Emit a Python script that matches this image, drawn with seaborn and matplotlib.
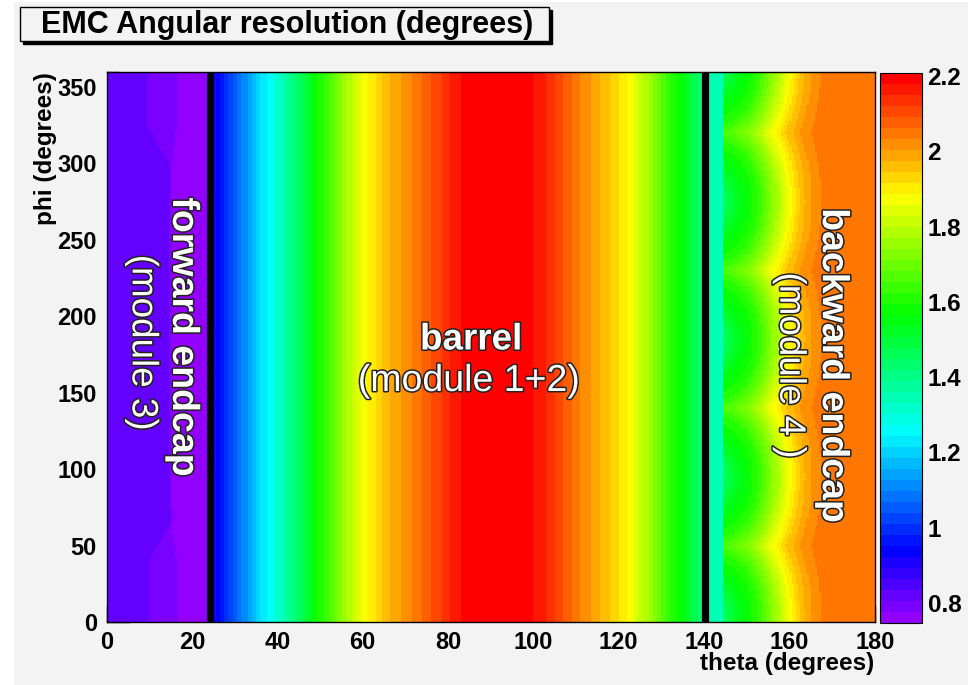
import colorsys

import numpy as np
import pandas as pd
import matplotlib
matplotlib.use("Agg")
import matplotlib.pyplot as plt
import matplotlib.patheffects as pe
from matplotlib.colors import ListedColormap
from matplotlib.patches import Rectangle
import seaborn as sns

# ---------------------------------------------------------------- data
# Barrel (module 1+2): angular resolution (deg) versus polar angle theta
barrel_theta = [24.0, 25.0, 30.0, 35.0, 38.5, 44.0, 49.0, 55.0, 61.0, 67.0, 73.0,
                79.0, 84.0, 91.5, 99.0, 104.0, 110.0, 116.0, 122.0, 128.0, 134.0,
                138.0, 141.0]
barrel_res = [0.91, 0.91, 1.05, 1.19, 1.27, 1.42, 1.575, 1.74, 1.89, 1.98, 2.05,
              2.13, 2.19, 2.23, 2.19, 2.14, 2.05, 1.97, 1.89, 1.74, 1.575,
              1.46, 1.40]

# Forward endcap (module 3): three resolution levels, separated by
# theta boundaries that move with phi
fwd_phi = [0, 40, 62, 70, 78, 300, 325, 360]
fwd_edge_inner = [9.8, 9.8, 14.4, 15.2, 14.4, 14.6, 9.4, 9.8]
fwd_edge_outer = [16.4, 16.4, 15.0, 15.6, 15.0, 15.2, 16.4, 16.4]
fwd_levels = [0.82, 0.79, 0.762]

# Backward endcap (module 4): resolution versus distance from the
# centre of each crystal sector; sector centres at these phi values
bwd_centres_phi = [5, 95, 185, 275]
bwd_centre_theta = 143.0
bwd_gap_theta = 144.5
bwd_dist = [0.0, 1.5, 5.5, 9.5, 13.5, 16.5, 19.5, 22.5, 25.5, 60.0]
bwd_res = [1.42, 1.45, 1.54, 1.62, 1.75, 1.86, 1.95, 2.01, 2.045, 2.045]
bwd_gap_res = 1.35

# detector transitions drawn as black lines
boundaries_theta = [24.1, 140.3]

# colour scale and axis ticks
z_min, z_max = 0.747, 2.209
cbar_ticks = [0.8, 1.0, 1.2, 1.4, 1.6, 1.8, 2.0, 2.2]
theta_ticks = [0, 20, 40, 60, 80, 100, 120, 140, 160, 180]
phi_ticks = [0, 50, 100, 150, 200, 250, 300, 350]

# ---------------------------------------------------------------- grid
D_THETA, D_PHI = 0.5, 1.0
PHI_SCALE = 0.24
theta_c = np.arange(D_THETA / 2, 180, D_THETA)
phi_c = np.arange(D_PHI / 2, 360, D_PHI)
T, P = np.meshgrid(theta_c, phi_c)

inner = np.interp(P, fwd_phi, fwd_edge_inner)
outer = np.interp(P, fwd_phi, fwd_edge_outer)
z_fwd = np.where(T < inner, fwd_levels[0],
                 np.where(T < outer, fwd_levels[1], fwd_levels[2]))

z_bar = np.interp(T, barrel_theta, barrel_res)

dphi = np.min([np.abs((P - c + 180) % 360 - 180) for c in bwd_centres_phi], axis=0)
dist = np.hypot(T - bwd_centre_theta, PHI_SCALE * dphi)
z_bwd = np.where(T < bwd_gap_theta, bwd_gap_res, np.interp(dist, bwd_dist, bwd_res))

Z = np.where(T < boundaries_theta[0], z_fwd,
             np.where(T < boundaries_theta[1], z_bar, z_bwd))
res_table = pd.DataFrame(Z, index=phi_c, columns=theta_c)

# ROOT "pretty" palette: 50 HLS hues from violet to red
palette = [colorsys.hls_to_rgb((280 - (i + 1) * 280 / 50) / 360, 0.5, 1.0) for i in range(49)]
palette.append((1.0, 0.0, 0.0))
cmap = ListedColormap(palette)

# ---------------------------------------------------------------- figure
sns.set_theme(style="ticks")
plt.rcParams["font.family"] = ["Liberation Sans", "DejaVu Sans"]
plt.rcParams.update({"text.color": "black", "axes.labelcolor": "black",
                     "xtick.color": "black", "ytick.color": "black"})

W, H = 977, 685
fig = plt.figure(figsize=(W / 100, H / 100), dpi=100)
fig.patch.set_facecolor("white")
fig.patches.append(Rectangle((14 / W, 0), (968 - 14) / W, (H - 2) / H,
                             transform=fig.transFigure, facecolor="#f3f3f3",
                             edgecolor="none", zorder=-10))


def fig_box(x0, y0, x1, y1):
    return (x0 / W, 1 - y1 / H), (x1 - x0) / W, (y1 - y0) / H


ax = fig.add_axes([106.7 / W, 1 - 622.3 / H, (874.7 - 106.7) / W, (622.3 - 71.7) / H])
cax = fig.add_axes([880 / W, 1 - 622.7 / H, 42 / W, (622.7 - 72.7) / H])

sns.heatmap(res_table, ax=ax, cbar_ax=cax, cmap=cmap, vmin=z_min, vmax=z_max,
            xticklabels=False, yticklabels=False, rasterized=True)
ax.invert_yaxis()
ax.set_xlabel("")
ax.set_ylabel("")

for th in boundaries_theta:
    ax.axvline(th / D_THETA, color="black", lw=5.2, zorder=3)

for s in ax.spines.values():
    s.set_visible(True)
    s.set_color("black")
    s.set_linewidth(1.0)

ax.set_xticks([t / D_THETA for t in theta_ticks])
ax.set_xticklabels([str(t) for t in theta_ticks])
ax.set_xticks([t / D_THETA for t in range(0, 181, 5)], minor=True)
ax.set_yticks([p / D_PHI for p in phi_ticks])
ax.set_yticklabels([str(p) for p in phi_ticks])
ax.set_yticks([p / D_PHI for p in range(0, 361, 10)], minor=True)
ax.tick_params(axis="x", which="major", direction="in", length=11.5, width=1,
               labelsize=17, pad=6, top=False, bottom=True, labelrotation=0,
               colors="black")
ax.tick_params(axis="x", which="minor", direction="in", length=5.8, width=1,
               top=False, bottom=True, colors="black")
ax.tick_params(axis="y", which="major", direction="in", length=16.5, width=1,
               labelsize=17, pad=7, left=True, right=False, labelrotation=0,
               colors="black")
ax.tick_params(axis="y", which="minor", direction="in", length=8.6, width=1,
               left=True, right=False, colors="black")
for lab in ax.get_xticklabels() + ax.get_yticklabels():
    lab.set_fontweight("bold")

cbar = ax.collections[0].colorbar
cbar.set_ticks(cbar_ticks)
cbar.set_ticklabels([f"{v:g}" for v in cbar_ticks])
cbar.ax.tick_params(direction="in", length=16, width=1, labelsize=17.5, pad=4,
                    right=True, left=False, colors="black")
for lab in cbar.ax.get_yticklabels():
    lab.set_fontweight("bold")
cbar.outline.set_linewidth(0.8)
cbar.outline.set_edgecolor("black")

# axis titles
fig.text(874.7 / W, 1 - 670 / H, "theta (degrees)", ha="right", va="baseline",
         fontsize=17.5, fontweight="bold", color="black")
fig.text(46 / W, 1 - 72 / H, "phi (degrees)", ha="center", va="top", rotation=90,
         fontsize=17.5, fontweight="bold", color="black")

# title box with shadow
xy, w, h = fig_box(23, 10, 552, 44)
fig.patches.append(Rectangle(xy, w, h, transform=fig.transFigure,
                             facecolor="black", edgecolor="black", zorder=1))
xy, w, h = fig_box(20, 7, 549, 41)
fig.patches.append(Rectangle(xy, w, h, transform=fig.transFigure,
                             facecolor="#f3f3f3", edgecolor="black", lw=1, zorder=2))
fig.text(287 / W, 1 - 25 / H, "EMC Angular resolution (degrees)", ha="center",
         va="center", fontsize=22, fontweight="bold", color="black", zorder=3)

# region labels
outline = [pe.withStroke(linewidth=2.2, foreground="#222222")]


def region_label(theta, phi, text, rot=0, weight="normal", size=26.5):
    ax.text(theta / D_THETA, phi / D_PHI, text, color="white", ha="center",
            va="center", rotation=rot, fontsize=size, fontweight=weight,
            path_effects=outline, zorder=5)


region_label(17.9, 186.6, "forward endcap", rot=-90, weight="bold", size=27)
region_label(8.3, 183.0, "(module 3)", rot=-90)
region_label(85.4, 184.6, "barrel", weight="bold")
region_label(84.9, 157.8, "(module 1+2)", size=27)
region_label(170.2, 168.0, "backward endcap", rot=-90, weight="bold", size=27)
region_label(160.1, 168.0, "(module 4 )", rot=-90)

fig.savefig("out.png", dpi=100, facecolor=fig.get_facecolor())
